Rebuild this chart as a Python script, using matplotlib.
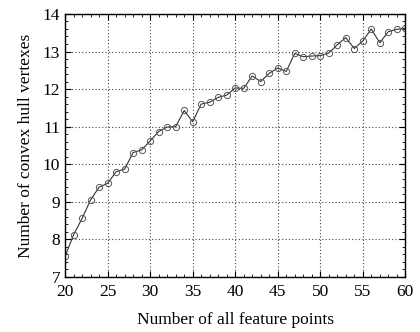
import matplotlib.pyplot as plt
from matplotlib.ticker import MultipleLocator

# number of feature points vs. convex hull vertexes
points = list(range(20, 61))
vertexes = [7.55, 8.12, 8.56, 9.05, 9.39, 9.49, 9.80, 9.87, 10.31, 10.38,
            10.62, 10.87, 10.99, 11.00, 11.43, 11.13, 11.60, 11.65, 11.78, 11.84,
            12.03, 12.02, 12.35, 12.20, 12.42, 12.56, 12.47, 12.95, 12.86, 12.88,
            12.89, 12.96, 13.18, 13.37, 13.08, 13.28, 13.60, 13.23, 13.53, 13.59,
            13.62]

xticks = [20, 25, 30, 35, 40, 45, 50, 55, 60]
yticks = [7, 8, 9, 10, 11, 12, 13, 14]

plt.rcParams['font.family'] = 'Liberation Serif'

fig = plt.figure(figsize=(4.2, 3.32), dpi=100)
ax = fig.add_axes([0.155, 0.166, 0.81, 0.792])

ax.plot(points, vertexes, color='#333333', linewidth=0.8, marker='o',
        markersize=4.5, markerfacecolor='none', markeredgecolor='#555555',
        markeredgewidth=0.7)

ax.set_xlim(20, 60)
ax.set_ylim(7, 14)
ax.set_xticks(xticks)
ax.set_yticks(yticks)
ax.xaxis.set_minor_locator(MultipleLocator(1))
ax.yaxis.set_minor_locator(MultipleLocator(0.2))
ax.tick_params(which='both', direction='in', top=True, right=True, labelsize=12.5)
ax.tick_params(which='major', length=4)
ax.tick_params(which='minor', length=2)
ax.tick_params(axis='x', pad=5)
ax.grid(True, which='major', linestyle=(0, (1, 2)), color='#444444', linewidth=0.8)

for s in ax.spines.values():
    s.set_linewidth(1.0)

ax.set_xlabel('Number of all feature points', fontsize=12.5, labelpad=9)
ax.set_ylabel('Number of convex hull vertexes', fontsize=12.5, labelpad=6)

fig.savefig('out.png', dpi=100)
